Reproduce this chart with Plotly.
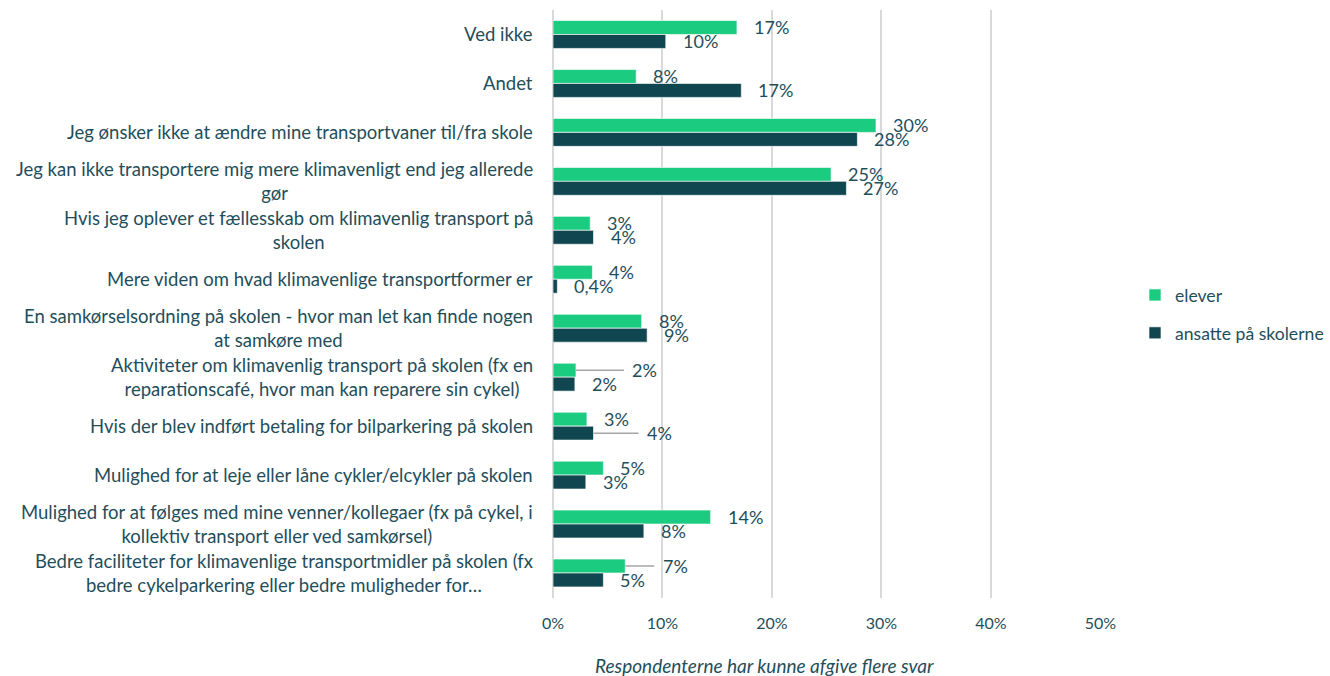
import plotly.graph_objects as go

categories = [
    "Ved ikke",
    "Andet",
    "Jeg ønsker ikke at ændre mine transportvaner til/fra skole",
    "Jeg kan ikke transportere mig mere klimavenligt end jeg allerede<br>gør",
    "Hvis jeg oplever et fællesskab om klimavenlig transport på<br>skolen",
    "Mere viden om hvad klimavenlige transportformer er",
    "En samkørselsordning på skolen - hvor man let kan finde nogen<br>at samkøre med",
    "Aktiviteter om klimavenlig transport på skolen (fx en<br>reparationscafé, hvor man kan reparere sin cykel)",
    "Hvis der blev indført betaling for bilparkering på skolen",
    "Mulighed for at leje eller låne cykler/elcykler på skolen",
    "Mulighed for at følges med mine venner/kollegaer (fx på cykel, i<br>kollektiv transport eller ved samkørsel)",
    "Bedre faciliteter for klimavenlige transportmidler på skolen (fx<br>bedre cykelparkering eller bedre muligheder for…",
]
elever = [16.8, 7.6, 29.5, 25.4, 3.4, 3.6, 8.1, 2.1, 3.1, 4.6, 14.4, 6.6]
ansatte = [10.3, 17.2, 27.8, 26.8, 3.7, 0.4, 8.6, 2.0, 3.7, 3.0, 8.3, 4.6]
series_names = ["elever", "ansatte på skolerne"]
x_ticks = [0, 10, 20, 30, 40, 50]
x_title = "Respondenterne har kunne afgive flere svar"

GREEN = "#1BCB80"
DARK = "#0F4650"
TEXT = "#1F4E5B"
FONT = "Lato"

# labels that were moved away with a leader line: (series index, category index) -> pixel offset
leaders = {(0, 7): 69, (1, 8): 66, (0, 11): 50}


def fmt(v):
    if v < 1:
        return f"{v:.1f}".replace(".", ",") + "%"
    return f"{int(v + 0.5)}%"


fig = go.Figure()
for name, vals, col in zip(series_names, [elever, ansatte], [GREEN, DARK]):
    fig.add_trace(go.Bar(
        y=categories, x=vals, name=name, orientation="h",
        marker=dict(color=col, line=dict(color="rgba(255,255,255,0.8)", width=0.8)),
        legendgroup=name, hoverinfo="skip",
    ))

annotations = []
# category labels (centered lines, right-aligned block)
for c in categories:
    annotations.append(dict(
        x=0, y=c, xref="x", yref="y", text=c, showarrow=False,
        xanchor="right", yanchor="middle", align="center", xshift=-18,
        font=dict(family=FONT, size=18.5, color=TEXT),
    ))
# data labels
for si, vals in enumerate([elever, ansatte]):
    ysh = 7 if si == 0 else -7
    for ci, v in enumerate(vals):
        key = (si, ci)
        if key in leaders:
            annotations.append(dict(
                x=v, y=categories[ci], xref="x", yref="y", text=fmt(v),
                showarrow=True, ax=leaders[key], ay=0, arrowhead=0, arrowwidth=1.5,
                arrowcolor="#A6A6A6", startstandoff=8, borderpad=0, yshift=ysh,
                font=dict(family=FONT, size=18, color=TEXT),
            ))
        else:
            annotations.append(dict(
                x=v, y=categories[ci], xref="x", yref="y", text=fmt(v),
                showarrow=False, xanchor="left", yanchor="middle", xshift=16,
                yshift=ysh, borderpad=0,
                font=dict(family=FONT, size=18, color=TEXT),
            ))
annotations.append(dict(
    x=0.3857, y=-0.1148, xref="paper", yref="paper", text="<i>" + x_title + "</i>",
    showarrow=False, xanchor="center", yanchor="middle",
    font=dict(family=FONT, size=19, color=TEXT),
))

fig.update_layout(
    width=1330, height=676,
    margin=dict(l=553, r=229, t=10, b=78),
    plot_bgcolor="white", paper_bgcolor="white",
    barmode="group", bargap=0.43, bargroupgap=0,
    font=dict(family=FONT, size=16, color=TEXT),
    xaxis=dict(
        range=[0, 50.05], tickvals=x_ticks, ticktext=[f"{t}%" for t in x_ticks],
        showgrid=True, gridcolor="#D9D9D9", gridwidth=1.5,
        zeroline=True, zerolinecolor="#D9D9D9", zerolinewidth=1.5,
        showline=False, ticks="", ticklabelstandoff=14,
        tickfont=dict(family=FONT, size=16, color=TEXT),
        fixedrange=True,
    ),
    yaxis=dict(
        categoryorder="array", categoryarray=categories, autorange="reversed",
        showticklabels=False, showgrid=False, zeroline=False, showline=False, ticks="",
        fixedrange=True,
    ),
    legend=dict(
        xref="container", yref="container",
        x=1135 / 1330, y=(676 - 314) / 676, xanchor="left", yanchor="middle",
        traceorder="grouped", tracegroupgap=12,
        font=dict(family=FONT, size=17.6, color=TEXT),
        bgcolor="rgba(0,0,0,0)",
    ),
    annotations=annotations,
)

fig.write_html("out.html", config={"displayModeBar": False},
               post_script="document.body.style.margin='0';")
